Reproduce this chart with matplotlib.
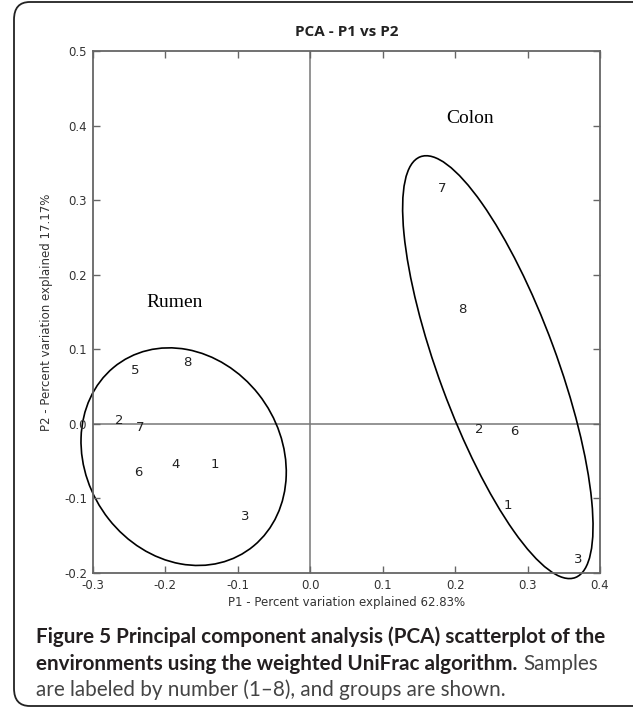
import matplotlib
matplotlib.use('Agg')
import matplotlib.pyplot as plt
from matplotlib.patches import Ellipse, FancyBboxPatch

plt.rc('axes', unicode_minus=False)

# sample positions (label centres)
rumen_ids = ['1', '2', '3', '4', '5', '6', '7', '8']
rumen_x = [-0.131, -0.264, -0.090, -0.185, -0.241, -0.237, -0.235, -0.170]
rumen_y = [-0.054, 0.004, -0.124, -0.054, 0.071, -0.065, -0.005, 0.082]

colon_ids = ['1', '2', '3', '6', '7', '8']
colon_x = [0.273, 0.233, 0.370, 0.282, 0.182, 0.210]
colon_y = [-0.109, -0.008, -0.182, -0.010, 0.315, 0.153]

# group ellipses: centre x, centre y, width, height, angle
rumen_ell = [-0.1745, -0.044, 0.3076, 0.266, -51]
colon_ell = [0.259, 0.076, 0.6034, 0.1626, -69.2]

x_ticks = [-0.3, -0.2, -0.1, 0.0, 0.1, 0.2, 0.3, 0.4]
y_ticks = [-0.2, -0.1, 0.0, 0.1, 0.2, 0.3, 0.4, 0.5]

fig = plt.figure(figsize=(6.33, 7.08), dpi=100)
ax = fig.add_axes([0.1464, 0.1907, 0.8015, 0.7373])

ax.axhline(0, color='#777777', lw=1.1, zorder=1)
ax.axvline(0, color='#777777', lw=1.1, zorder=1)

for i, t in enumerate(rumen_ids):
    ax.text(rumen_x[i], rumen_y[i], t, ha='center', va='center',
            fontsize=9.5, color='#222222')
for i, t in enumerate(colon_ids):
    ax.text(colon_x[i], colon_y[i], t, ha='center', va='center',
            fontsize=9.5, color='#222222')

for e in (rumen_ell, colon_ell):
    ax.add_patch(Ellipse((e[0], e[1]), e[2], e[3], angle=e[4],
                         fill=False, ec='black', lw=1.2, clip_on=False))

ax.text(-0.187, 0.163, 'Rumen', family='Liberation Serif', fontsize=14,
        ha='center', va='center')
ax.text(0.221, 0.409, 'Colon', family='Liberation Serif', fontsize=14,
        ha='center', va='center')

ax.set_xlim(-0.3, 0.4)
ax.set_ylim(-0.2, 0.5)
ax.set_xticks(x_ticks)
ax.set_yticks(y_ticks)
ax.xaxis.set_major_formatter(matplotlib.ticker.FormatStrFormatter('%.1f'))
ax.yaxis.set_major_formatter(matplotlib.ticker.FormatStrFormatter('%.1f'))
ax.tick_params(direction='in', length=5, width=1, color='#666666',
               labelsize=8.5, labelcolor='#333333', top=True, right=True, pad=4)
for s in ax.spines.values():
    s.set_color('#666666')
    s.set_linewidth(1.3)

ax.set_xlabel('P1 - Percent variation explained 62.83%', fontsize=8.5,
              color='#333333', labelpad=3)
ax.set_ylabel('P2 - Percent variation explained 17.17%', fontsize=8.5,
              color='#333333', labelpad=8)

fig.text(0.547, 1 - 32 / 708, 'PCA - P1 vs P2', family='Open Sans',
         weight='bold', fontsize=11, ha='center', va='center', color='#222222')

# rounded frame around figure + caption
fig.patches.append(FancyBboxPatch((14 / 633, 2 / 708), 640 / 633, 704 / 708,
                                  boxstyle='round,pad=0,rounding_size=0.025',
                                  transform=fig.transFigure, fill=False,
                                  ec='#222222', lw=1.3))

# caption, font size fitted so the first line spans about 572 px
cap_x = 36 / 633
renderer = fig.canvas.get_renderer()
probe = fig.text(0, 0, 'Figure 5 Principal component analysis (PCA) scatterplot of the',
                 family='Lato', weight='bold', fontsize=14)
w = probe.get_window_extent(renderer=renderer).width
probe.remove()
cap_size = 14 * 572 / w
cap_font = dict(family='Lato', fontsize=cap_size, va='center')

fig.text(cap_x, 1 - 637 / 708,
         'Figure 5 Principal component analysis (PCA) scatterplot of the',
         weight='bold', color='#231f20', **cap_font)
b = fig.text(cap_x, 1 - 664 / 708,
             'environments using the weighted UniFrac algorithm.',
             weight='bold', color='#231f20', **cap_font)
bb = b.get_window_extent(renderer=renderer)
fig.text(bb.x1 / fig.bbox.width + 6 / 633, 1 - 664 / 708, 'Samples',
         color='#444444', **cap_font)
fig.text(cap_x, 1 - 690 / 708,
         'are labeled by number (1\u20138), and groups are shown.',
         color='#444444', **cap_font)

plt.savefig('out.png', dpi=100)
